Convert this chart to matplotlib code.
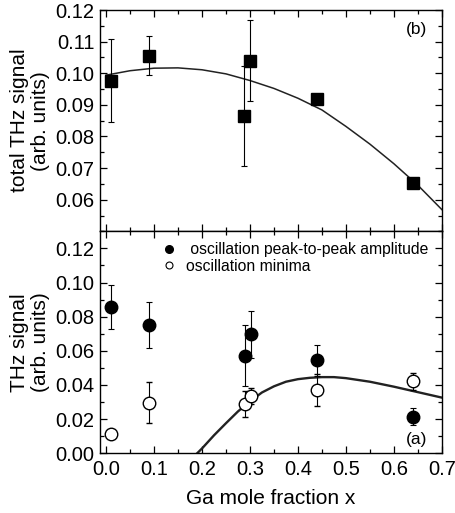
import matplotlib.pyplot as plt
from matplotlib.lines import Line2D
from matplotlib.ticker import MultipleLocator

plt.rcParams['font.family'] = ['Liberation Sans', 'DejaVu Sans']

# (b) total THz signal
tot_x = [0.01, 0.09, 0.288, 0.30, 0.44, 0.64]
tot_y = [0.0977, 0.1055, 0.0866, 0.1040, 0.0920, 0.0652]
tot_err = [0.0130, 0.0062, 0.0158, 0.0128, 0.0008, 0.0012]

# fitted curve
tot_fit_x = [0.0, 0.05, 0.1, 0.15, 0.2, 0.25, 0.3, 0.35, 0.4, 0.45, 0.5, 0.55, 0.6, 0.65, 0.7]
tot_fit_y = [0.0994, 0.1008, 0.1016, 0.1017, 0.1011, 0.0998, 0.0977, 0.0952,
             0.0921, 0.0884, 0.0832, 0.0776, 0.0714, 0.0646, 0.0569]

# (a) oscillation amplitude and minima
osc_x = [0.01, 0.09, 0.29, 0.302, 0.44, 0.64]
p2p_y = [0.0857, 0.0751, 0.0572, 0.0696, 0.0545, 0.0213]
p2p_err = [0.0131, 0.0136, 0.0177, 0.0140, 0.0090, 0.0050]
min_y = [0.0110, 0.0295, 0.0287, 0.0335, 0.0370, 0.0423]
min_err = [0.0015, 0.0120, 0.0077, 0.0045, 0.0093, 0.0050]

min_fit_x = [0.19, 0.20, 0.225, 0.25, 0.275, 0.30, 0.325, 0.35, 0.375, 0.40,
             0.425, 0.45, 0.475, 0.50, 0.55, 0.60, 0.65, 0.70]
min_fit_y = [0.0, 0.0028, 0.0105, 0.0176, 0.0245, 0.0304, 0.0356, 0.0392, 0.0419,
             0.0434, 0.0442, 0.0446, 0.0446, 0.0440, 0.0419, 0.0390, 0.0358, 0.0326]

fig = plt.figure(figsize=(4.55, 5.13), dpi=100)
ax_b = fig.add_axes([0.22, 0.549, 0.751, 0.4315])
ax_a = fig.add_axes([0.22, 0.1165, 0.751, 0.4325])

for ax in (ax_b, ax_a):
    ax.set_xlim(-0.0125, 0.7)
    ax.xaxis.set_major_locator(MultipleLocator(0.1))
    ax.xaxis.set_minor_locator(MultipleLocator(0.05))
    ax.tick_params(which='both', direction='in', top=True, right=True,
                   labelsize=14.5, width=0.9)
    ax.tick_params(which='major', length=5, pad=4)
    ax.tick_params(which='minor', length=3)
    for sp in ax.spines.values():
        sp.set_linewidth(1.0)

# panel (b)
ax_b.errorbar(tot_x, tot_y, yerr=tot_err, fmt='s', color='black', ms=8,
              ecolor='black', elinewidth=0.8, capsize=2.5, capthick=0.8, zorder=3)
ax_b.plot(tot_fit_x, tot_fit_y, color='#222222', lw=1.1, zorder=2)
ax_b.set_ylim(0.05, 0.12)
ax_b.yaxis.set_major_locator(MultipleLocator(0.01))
ax_b.yaxis.set_minor_locator(MultipleLocator(0.005))
ax_b.set_yticks([0.06, 0.07, 0.08, 0.09, 0.10, 0.11, 0.12])
ax_b.yaxis.set_major_formatter(plt.FormatStrFormatter('%.2f'))
ax_b.tick_params(labelbottom=False)
ax_b.set_ylabel('total THz signal\n(arb. units)', fontsize=15, labelpad=4,
                linespacing=1.15)
ax_b.text(0.958, 0.91, '(b)', transform=ax_b.transAxes, fontsize=12.5,
          ha='right', va='center')

# panel (a)
ax_a.errorbar(osc_x, p2p_y, yerr=p2p_err, fmt='o', color='black', ms=9,
              ecolor='black', elinewidth=0.8, capsize=2.5, capthick=0.8, zorder=3)
ax_a.errorbar(osc_x, min_y, yerr=min_err, fmt='o', mfc='white', mec='black',
              mew=1.0, ms=9, ecolor='black', elinewidth=0.8, capsize=2.5,
              capthick=0.8, zorder=3)
ax_a.plot(min_fit_x, min_fit_y, color='#222222', lw=1.7, zorder=2)
ax_a.set_ylim(0.0, 0.13)
ax_a.yaxis.set_major_locator(MultipleLocator(0.02))
ax_a.yaxis.set_minor_locator(MultipleLocator(0.01))
ax_a.yaxis.set_major_formatter(plt.FormatStrFormatter('%.2f'))
ax_a.set_xticks([0.0, 0.1, 0.2, 0.3, 0.4, 0.5, 0.6, 0.7])
ax_a.xaxis.set_major_formatter(plt.FormatStrFormatter('%.1f'))
ax_a.tick_params(axis='x', pad=5)
ax_a.set_xlabel('Ga mole fraction x', fontsize=15, labelpad=7)
ax_a.set_ylabel('THz signal\n(arb. units)', fontsize=15, labelpad=4,
                linespacing=1.15)
ax_a.text(0.958, 0.062, '(a)', transform=ax_a.transAxes, fontsize=12.5,
          ha='right', va='center')

handles = [
    Line2D([], [], ls='none', marker='o', color='black', ms=5.5),
    Line2D([], [], ls='none', marker='o', mfc='white', mec='black', mew=0.8, ms=5),
]
ax_a.legend(handles, [' oscillation peak-to-peak amplitude', 'oscillation minima'],
            loc='upper left', bbox_to_anchor=(0.16, 0.98), frameon=False,
            fontsize=11.3, handlelength=1.0, handletextpad=0.6,
            labelspacing=0.1, borderaxespad=0.0)

fig.savefig('out.png', dpi=100)
